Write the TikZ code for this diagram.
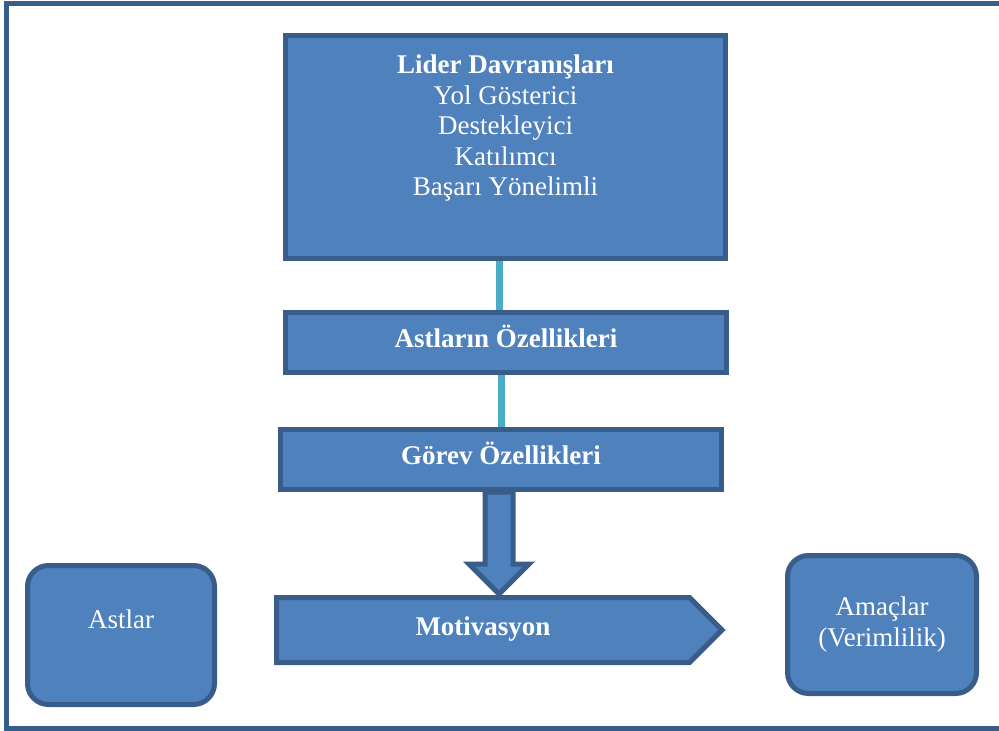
\documentclass[tikz,border=0pt]{standalone}
\usepackage{fontspec}
\setmainfont{Liberation Serif}
\usetikzlibrary{positioning,shapes.symbols}
\definecolor{box fill}{HTML}{4F81BD}
\definecolor{box line}{HTML}{385D8A}
\definecolor{link teal}{HTML}{4BACC6}

\begin{document}
\begin{tikzpicture}
  [
    x=0.5pt, y=-0.5pt,
    font=\fontsize{13.5}{15.25}\selectfont,
    blue box/.style={rectangle,draw=box line,fill=box fill,line width=2.5pt,text=white,inner sep=0},
    bar box/.style={blue box,font=\fontsize{13.5}{15.25}\selectfont\bfseries,text height=0.72em,text depth=0.22em},
    round box/.style={blue box,rounded corners=10.5pt,align=center},
    box text/.style={text=white,inner sep=0,align=center},
    link/.style={draw=link teal,line width=3.5pt},
    block arrow/.style={draw=box line,fill=box fill,line width=2.5pt,line join=miter},
    frame/.style={draw=box line,line width=2.5pt},
  ]
  \useasboundingbox (0,0) rectangle (999,731);
  \draw[frame] (6.5,3.5) rectangle (1012,728);

  \node(lider)[blue box,minimum width=220pt,minimum height=111.5pt] at (505.5,147){};
  \node(lidertext)[box text,below=10.75pt of lider.north]{\textbf{Lider Davranışları}\\Yol Gösterici\\Destekleyici\\Katılımcı\\Başarı Yönelimli};
  \node(astozel)[bar box,minimum width=220.5pt,minimum height=30pt] at (506,342.5){Astların Özellikleri};
  \node(gorev)[bar box,minimum width=220.5pt,minimum height=30pt] at (501,459.5){Görev Özellikleri};
  \node(motiv)[bar box,signal,signal to=east,signal pointer angle=90,minimum width=222.75pt,minimum height=32.5pt] at (483,630){Motivasyon};
  \node(astlar)[round box,minimum width=93.5pt,minimum height=69.5pt] at (121,635){};
  \node(astlartext)[box text] at ([yshift=8pt]astlar.center){Astlar};
  \node(amaclar)[round box,minimum width=94.5pt,minimum height=69pt] at (882,624.5){Amaçlar\\(Verimlilik)};

  \draw[link] ([xshift=-3pt]lider.south) -- ([xshift=-3pt]lider.south |- astozel.north);
  \draw[link] (astozel.south -| gorev.north) -- (gorev.north);
  \draw[block arrow] ([xshift=-8pt]gorev.south) -- ++(0,72) -- ++(-16,0) -- ++(30,30) -- ++(30,-30) -- ++(-16,0) -- ++(0,-72) -- cycle;
\end{tikzpicture}
\end{document}
